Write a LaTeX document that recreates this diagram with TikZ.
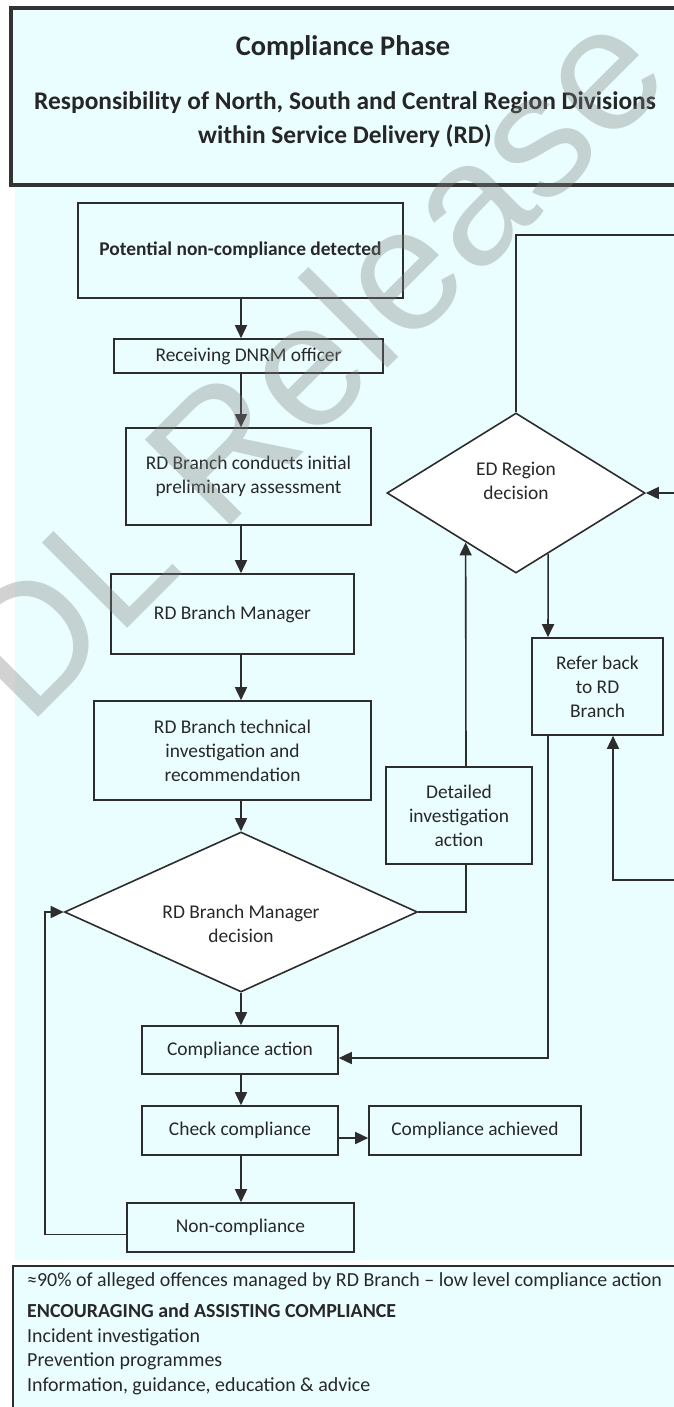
\documentclass[tikz,border=0pt]{standalone}
\usepackage{fontspec}
\setmainfont{Carlito}
\newfontfamily\wmfont{Liberation Sans}
\usetikzlibrary{shapes.geometric,arrows.meta,calc}
\definecolor{paper}{RGB}{234,254,255}
\definecolor{ink}{RGB}{45,45,45}
\definecolor{txt}{RGB}{40,40,40}
\newcommand\boxfont{\fontsize{19.5}{24}\selectfont}
\newcommand\notefont{\fontsize{20}{24.5}\selectfont}
\newcommand\titlefont{\fontsize{28.5}{34}\selectfont\bfseries}
\newcommand\headfont{\fontsize{25.5}{34}\selectfont\bfseries}
\begin{document}
\begin{tikzpicture}[x=1bp,y=-1bp,
  box/.style={draw=ink, line width=1.6bp, fill=paper, align=center, inner sep=2bp, font=\boxfont, text=txt},
  dia/.style={diamond, draw=ink, line width=1.6bp, fill=white, inner sep=0pt},
  lbl/.style={font=\boxfont, text=txt, align=center, inner sep=0pt},
  arr/.style={draw=ink, line width=1.6bp, -{Triangle[length=13bp,width=12bp]}},
  ln/.style={draw=ink, line width=1.6bp},
]
\useasboundingbox (0,0) rectangle (674,1407);
\clip (0,0) rectangle (674,1407);
\fill[white] (0,0) rectangle (674,1407);
\fill[paper] (15,185) rectangle (674,1260);

% heading panel
\draw[line width=3.2bp, draw=black!80, fill=paper] (11,8) rectangle (700,185);
\node[font=\titlefont, text=black!85] (title) at (343,48) {Compliance Phase};
\node[font=\headfont, text=black!85, align=center] (scope) at (345,120)
  {Responsibility of North, South and Central Region Divisions\\within Service Delivery (RD)};

% column guides
\coordinate (spine) at (241,0);
\coordinate (upx) at (466,0);
\coordinate (downx) at (548,0);
\coordinate (backx) at (613,0);
\coordinate (loopx) at (45,912);
\coordinate (edgeTop) at (690,235);
\coordinate (edgeMid) at (690,493);
\coordinate (edgeLow) at (690,880);

% main column
\node[box, minimum width=325bp, minimum height=95bp, font=\boxfont\bfseries] (det) at (240.5,250.5) {Potential non-compliance detected};
\node[box, minimum width=269bp, minimum height=34bp] (recv) at (248.5,356) {Receiving DNRM officer};
\node[box, minimum width=245bp, minimum height=97bp] (prelim) at (248.5,476.5) {RD Branch conducts initial\\preliminary assessment};
\node[box, minimum width=243bp, minimum height=80bp] (mgr) at (232.5,614) {RD Branch Manager};
\node[box, minimum width=277bp, minimum height=99bp] (tech) at (232.5,750.5) {RD Branch technical\\investigation and\\recommendation};
\node[dia, minimum width=353bp, minimum height=160bp] (dec1) at (241,912) {};
\node[lbl] (dec1txt) at (241,924) {RD Branch Manager\\decision};
\node[box, minimum width=196bp, minimum height=48bp] (act) at (240,1050) {Compliance action};
\node[box, minimum width=196bp, minimum height=49bp] (check) at (240,1130.5) {Check compliance};
\node[box, minimum width=212bp, minimum height=49bp] (ach) at (475,1130.5) {Compliance achieved};
\node[box, minimum width=227bp, minimum height=49bp] (non) at (240.5,1227.5) {Non-compliance};

% escalation column
\node[box, minimum width=146bp, minimum height=97bp] (detail) at (459,815.5) {Detailed\\investigation\\action};
\node[dia, minimum width=258bp, minimum height=160bp] (ed) at (516,493) {};
\node[lbl] (edtxt) at (516,481) {ED Region\\decision};
\node[box, minimum width=131bp, minimum height=97bp] (refer) at (597.5,686.5) {Refer back\\to RD\\Branch};

% connectors
\draw[arr] (det.south -| spine) -- (recv.north -| spine);
\draw[arr] (recv.south -| spine) -- (prelim.north -| spine);
\draw[arr] (prelim.south -| spine) -- (mgr.north -| spine);
\draw[arr] (mgr.south -| spine) -- (tech.north -| spine);
\draw[arr] (tech.south -| spine) -- (dec1.north);
\draw[arr] (dec1.south) -- (act.north -| spine);
\draw[arr] (act.south -| spine) -- (check.north -| spine);
\draw[arr] ([yshift=-7.5bp]check.east) -- ([yshift=-7.5bp]ach.west);
\draw[arr] (check.south -| spine) -- (non.north -| spine);
\draw[arr] ([yshift=-7bp]non.west) -| (loopx) -- (dec1.west);
\draw[ln] (dec1.east) -| (detail.south -| upx);
\draw[arr] (detail.north -| upx) -- ($(ed.west)!0.612!(ed.south)$);
\draw[ln] (ed.north) |- (edgeTop);
\draw[arr] (edgeMid) -- (ed.east);
\draw[arr] ($(ed.south)!0.248!(ed.east)$) -- (refer.north -| downx);
\draw[arr] (refer.south -| downx) |- ([yshift=-8bp]act.east);
\draw[arr] (edgeLow) -| (refer.south -| backx);

% notes panel (node base sits on the last line)
\draw[ln, fill=paper] (13,1266) rectangle (700,1420);
\node[anchor=base west, align=left, inner sep=0pt, font=\notefont, text=txt] (notes) at (27,1391)
  {≈90\% of alleged offences managed by RD Branch – low level compliance action\\[6.5bp]
   \textbf{ENCOURAGING and ASSISTING COMPLIANCE}\\
   Incident investigation\\
   Prevention programmes\\
   Information, guidance, education \& advice};

% watermark
\node[rotate=45, anchor=base west, inner sep=0pt, font=\wmfont\fontsize{176}{176}\selectfont, text=gray, text opacity=0.35] (mark) at (28,728) {DL Release};
\end{tikzpicture}
\end{document}
